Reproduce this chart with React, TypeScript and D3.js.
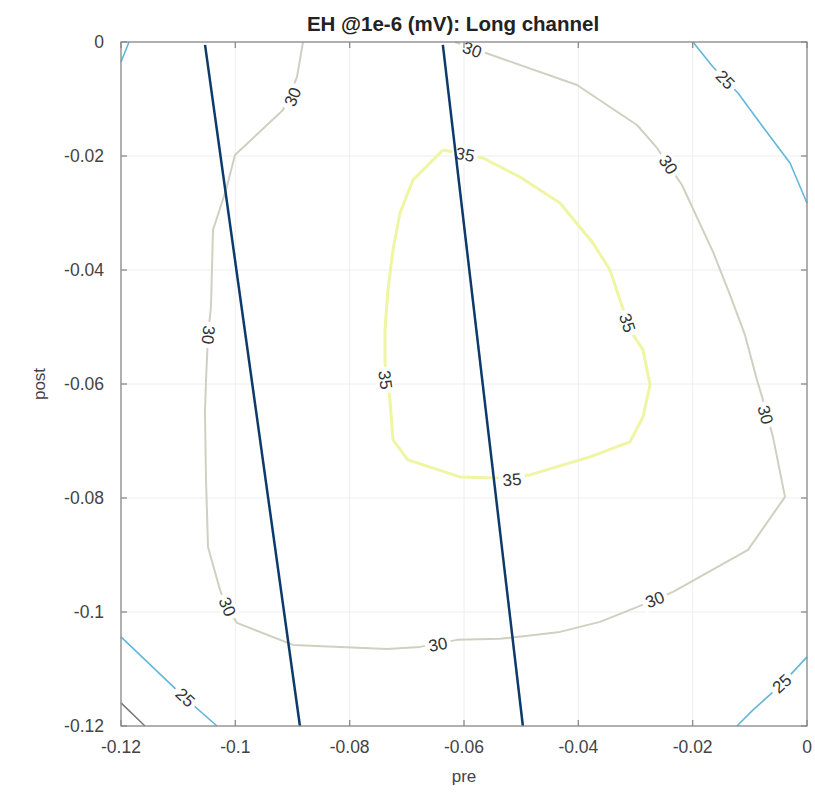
import React from "react";
import * as d3 from "d3";

// Axis ticks
const xTicks = [-0.12, -0.1, -0.08, -0.06, -0.04, -0.02, 0];
const xTickLabels = ["-0.12", "-0.1", "-0.08", "-0.06", "-0.04", "-0.02", "0"];
const yTicks = [-0.12, -0.1, -0.08, -0.06, -0.04, -0.02, 0];
const yTickLabels = ["-0.12", "-0.1", "-0.08", "-0.06", "-0.04", "-0.02", "0"];

type Pt = [number, number];

// Iso-lines of EH (mV) in (pre, post) space
const level20: Pt[] = [
  [-0.12, -0.11594],
  [-0.11581, -0.12],
];

const level25TopLeft: Pt[] = [
  [-0.12, -0.00351],
  [-0.1186, 0],
];
const level25TopRight: Pt[] = [
  [-0.01994, 0],
  [-0.01644, -0.00439],
  [-0.01207, -0.00895],
  [-0.0077, -0.01491],
  [-0.00297, -0.02122],
  [0, -0.02824],
];
const level25BottomLeft: Pt[] = [
  [-0.12, -0.10436],
  [-0.10881, -0.11506],
  [-0.10321, -0.12],
];
const level25BottomRight: Pt[] = [
  [-0.01225, -0.12],
  [-0.00962, -0.11734],
  [-0.00437, -0.11261],
  [0, -0.10787],
];

const level30: Pt[] = [
  [-0.08816, 0],
  [-0.08921, -0.00614],
  [-0.09166, -0.01193],
  [-0.10006, -0.01982],
  [-0.10163, -0.02596],
  [-0.10391, -0.03298],
  [-0.10426, -0.04648],
  [-0.10478, -0.05139],
  [-0.10513, -0.05929],
  [-0.10531, -0.06507],
  [-0.10513, -0.07683],
  [-0.10478, -0.08858],
  [-0.10268, -0.09612],
  [-0.10146, -0.0991],
  [-0.09971, -0.10191],
  [-0.08991, -0.10577],
  [-0.07347, -0.10647],
  [-0.0677, -0.10612],
  [-0.06123, -0.10489],
  [-0.0537, -0.10471],
  [-0.04321, -0.10349],
  [-0.03621, -0.10173],
  [-0.02659, -0.09787],
  [-0.02344, -0.09647],
  [-0.01032, -0.0891],
  [-0.00385, -0.07981],
  [-0.00595, -0.06928],
  [-0.0077, -0.06279],
  [-0.00875, -0.05929],
  [-0.01085, -0.05139],
  [-0.01347, -0.04438],
  [-0.01644, -0.03683],
  [-0.02187, -0.02508],
  [-0.02624, -0.01859],
  [-0.02974, -0.01456],
  [-0.04023, -0.00754],
  [-0.0537, -0.00281],
  [-0.06158, 0],
];

const level35: Pt[] = [
  [-0.06367, -0.01894],
  [-0.05668, -0.02035],
  [-0.0502, -0.02368],
  [-0.04321, -0.02824],
  [-0.03744, -0.03526],
  [-0.03446, -0.04],
  [-0.03271, -0.04525],
  [-0.03096, -0.05052],
  [-0.02869, -0.05402],
  [-0.02746, -0.06016],
  [-0.02869, -0.06578],
  [-0.03096, -0.07016],
  [-0.03796, -0.07279],
  [-0.04846, -0.07595],
  [-0.05458, -0.07647],
  [-0.0607, -0.0763],
  [-0.0698, -0.07332],
  [-0.07242, -0.06981],
  [-0.07295, -0.06279],
  [-0.07382, -0.0563],
  [-0.07382, -0.05052],
  [-0.0733, -0.0435],
  [-0.07242, -0.03648],
  [-0.0712, -0.02999],
  [-0.06892, -0.02421],
  [-0.06367, -0.01894],
];

// Label anchors along each line
const labels30: Pt[] = [
  [-0.08991, -0.00965],
  [-0.10478, -0.05139],
  [-0.10146, -0.0991],
  [-0.06455, -0.10577],
  [-0.02659, -0.09787],
  [-0.00735, -0.06542],
  [-0.02432, -0.02157],
  [-0.0586, -0.0014],
];
const labels35: Pt[] = [
  [-0.05983, -0.01982],
  [-0.03149, -0.04929],
  [-0.0516, -0.07683],
  [-0.07382, -0.05929],
];
const labels25TopRight: Pt[] = [[-0.01434, -0.00667]];
const labels25BottomLeft: Pt[] = [[-0.10881, -0.11506]];
const labels25BottomRight: Pt[] = [[-0.00437, -0.11261]];

// Two straight boundary lines
const boundaryA: Pt[] = [
  [-0.1053, -0.0005],
  [-0.0887, -0.12],
];
const boundaryB: Pt[] = [
  [-0.0637, -0.0005],
  [-0.0497, -0.12],
];

const W = 815;
const H = 796;
const M = { left: 121, right: 807, top: 42, bottom: 726 };

const x = d3.scaleLinear().domain([-0.12, 0]).range([M.left, M.right]);
const y = d3.scaleLinear().domain([-0.12, 0]).range([M.bottom, M.top]);

const line = d3
  .line<Pt>()
  .x((d) => x(d[0]))
  .y((d) => y(d[1]));

const FONT = "'Liberation Sans', Arial, Helvetica, sans-serif";

// Angle of the polyline segment nearest to a label anchor, kept readable
function labelAngle(path: Pt[], p: Pt): number {
  const px = x(p[0]);
  const py = y(p[1]);
  let best = Infinity;
  let ang = 0;
  for (let i = 0; i < path.length - 1; i++) {
    const ax = x(path[i][0]);
    const ay = y(path[i][1]);
    const bx = x(path[i + 1][0]);
    const by = y(path[i + 1][1]);
    const dx = bx - ax;
    const dy = by - ay;
    const len2 = dx * dx + dy * dy || 1;
    let t = ((px - ax) * dx + (py - ay) * dy) / len2;
    t = Math.max(0, Math.min(1, t));
    const cx = ax + t * dx;
    const cy = ay + t * dy;
    const dist = (px - cx) ** 2 + (py - cy) ** 2;
    if (dist < best) {
      best = dist;
      ang = (Math.atan2(dy, dx) * 180) / Math.PI;
    }
  }
  while (ang > 100) ang -= 180;
  while (ang <= -80) ang += 180;
  return ang;
}

function ContourLabels({
  path,
  points,
  text,
}: {
  path: Pt[];
  points: Pt[];
  text: string;
}) {
  return (
    <g>
      {points.map((p, i) => {
        const a = labelAngle(path, p);
        return (
          <g key={i} transform={`translate(${x(p[0])},${y(p[1])}) rotate(${a})`}>
            <rect x={-13} y={-9} width={26} height={18} fill="#fff" />
            <text
              textAnchor="middle"
              dominantBaseline="central"
              fontFamily={FONT}
              fontSize={17}
              fill="#333"
            >
              {text}
            </text>
          </g>
        );
      })}
    </g>
  );
}

export default function App() {
  const c20 = "#777777";
  const c25 = "#62b7db";
  const c30 = "#d0d0c0";
  const c35 = "#eff5a2";
  const axisColor = "#8a8a8a";

  return (
    <svg
      width={W}
      height={H}
      viewBox={`0 0 ${W} ${H}`}
      style={{ position: "absolute", left: 0, top: 0, background: "#fff" }}
    >
      <rect x={0} y={0} width={W} height={H} fill="#fff" />

      {/* grid */}
      <g stroke="#eeeeee" strokeWidth={1}>
        {xTicks.map((t, i) => (
          <line key={"gx" + i} x1={x(t)} x2={x(t)} y1={M.top} y2={M.bottom} />
        ))}
        {yTicks.map((t, i) => (
          <line key={"gy" + i} x1={M.left} x2={M.right} y1={y(t)} y2={y(t)} />
        ))}
      </g>

      {/* contour lines */}
      <g fill="none" strokeLinejoin="round">
        <path d={line(level20) || ""} stroke={c20} strokeWidth={1.5} />
        <path d={line(level25TopLeft) || ""} stroke={c25} strokeWidth={1.6} />
        <path d={line(level25TopRight) || ""} stroke={c25} strokeWidth={1.6} />
        <path d={line(level25BottomLeft) || ""} stroke={c25} strokeWidth={1.6} />
        <path d={line(level25BottomRight) || ""} stroke={c25} strokeWidth={1.6} />
        <path d={line(level30) || ""} stroke={c30} strokeWidth={2} />
        <path d={line(level35) || ""} stroke={c35} strokeWidth={3} />
      </g>

      {/* contour labels */}
      <ContourLabels path={level30} points={labels30} text="30" />
      <ContourLabels path={level35} points={labels35} text="35" />
      <ContourLabels path={level25TopRight} points={labels25TopRight} text="25" />
      <ContourLabels path={level25BottomLeft} points={labels25BottomLeft} text="25" />
      <ContourLabels path={level25BottomRight} points={labels25BottomRight} text="25" />

      {/* boundary lines */}
      <g fill="none" stroke="#0c3a6b" strokeWidth={2.5}>
        <path d={line(boundaryA) || ""} />
        <path d={line(boundaryB) || ""} />
      </g>

      {/* axes box and ticks */}
      <rect
        x={M.left}
        y={M.top}
        width={M.right - M.left}
        height={M.bottom - M.top}
        fill="none"
        stroke={axisColor}
        strokeWidth={1.3}
      />
      <g stroke={axisColor} strokeWidth={1.3}>
        {xTicks.map((t, i) => (
          <g key={"tx" + i}>
            <line x1={x(t)} x2={x(t)} y1={M.bottom} y2={M.bottom - 6} />
            <line x1={x(t)} x2={x(t)} y1={M.top} y2={M.top + 6} />
          </g>
        ))}
        {yTicks.map((t, i) => (
          <g key={"ty" + i}>
            <line x1={M.left} x2={M.left + 6} y1={y(t)} y2={y(t)} />
            <line x1={M.right} x2={M.right - 6} y1={y(t)} y2={y(t)} />
          </g>
        ))}
      </g>

      {/* tick labels */}
      <g fontFamily={FONT} fontSize={17.5} fill="#444">
        {xTicks.map((t, i) => (
          <text key={"lx" + i} x={x(t)} y={753} textAnchor="middle">
            {xTickLabels[i]}
          </text>
        ))}
        {yTicks.map((t, i) => (
          <text
            key={"ly" + i}
            x={104}
            y={y(t)}
            textAnchor="end"
            dominantBaseline="central"
          >
            {yTickLabels[i]}
          </text>
        ))}
      </g>

      {/* axis titles */}
      <text
        x={464}
        y={782}
        textAnchor="middle"
        fontFamily={FONT}
        fontSize={17}
        fill="#444"
      >
        pre
      </text>
      <text
        transform={`translate(45,384) rotate(-90)`}
        textAnchor="middle"
        fontFamily={FONT}
        fontSize={17}
        fill="#444"
      >
        post
      </text>

      {/* title */}
      <text
        x={453}
        y={31}
        textAnchor="middle"
        fontFamily={FONT}
        fontSize={20.5}
        fontWeight="bold"
        fill="#222"
      >
        EH @1e-6 (mV): Long channel
      </text>
    </svg>
  );
}
